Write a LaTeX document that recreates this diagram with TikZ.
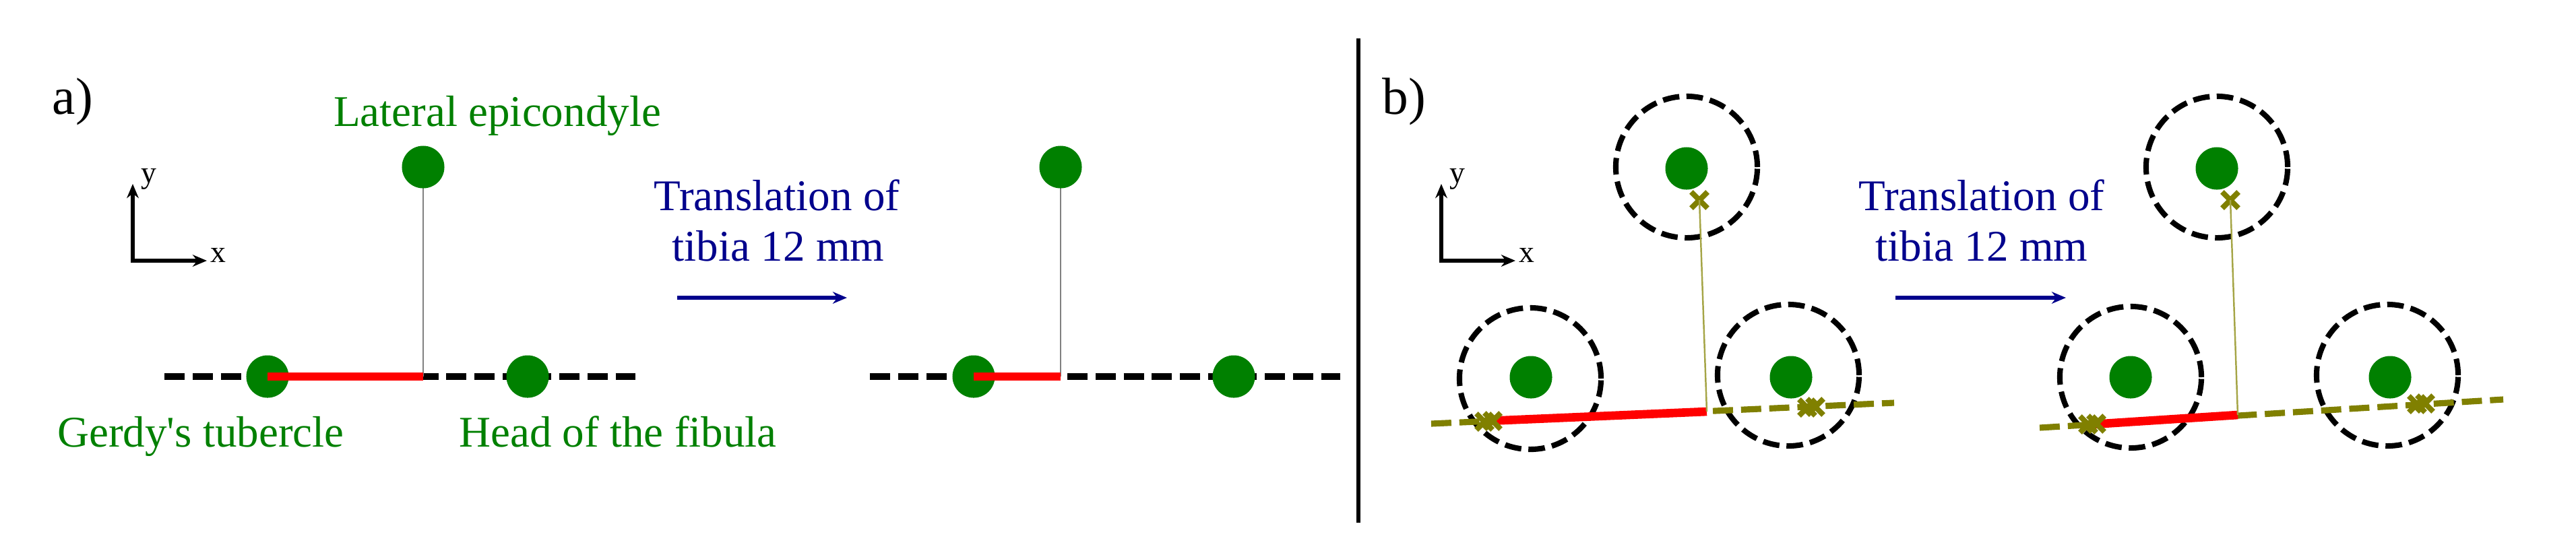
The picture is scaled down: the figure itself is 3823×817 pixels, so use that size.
\documentclass[tikz,border=0pt]{standalone}
\usepackage{fontspec}
\setmainfont{Liberation Serif}
\usetikzlibrary{arrows.meta,shapes.misc}
\definecolor{tgreen}{RGB}{0,128,0}
\definecolor{navyc}{RGB}{0,0,140}
\definecolor{olivec}{RGB}{128,128,0}
\definecolor{olivethin}{RGB}{165,165,70}
\begin{document}
\begin{tikzpicture}[x=0.01cm,y=-0.01cm,
  dot/.style={circle,fill=tgreen,inner sep=0pt,minimum size=0.63cm},
  ring/.style={circle,draw=black,line width=2.3pt,dash pattern=on 7pt off 3pt,inner sep=0pt,minimum size=2.1cm},
  lbl/.style={text=tgreen,font=\fontsize{18.5}{22}\selectfont,inner sep=0pt,anchor=base},
  trl/.style={text=navyc,font=\fontsize{18.5}{22}\selectfont,inner sep=0pt,anchor=base},
  panel/.style={font=\fontsize{22}{26}\selectfont,inner sep=0pt,anchor=base west},
  axl/.style={font=\fontsize{13}{15}\selectfont,inner sep=0pt},
  axis/.style={line width=1.9pt,line join=miter,{Stealth[length=6pt,width=5pt]}-{Stealth[length=6pt,width=5pt]}},
  transarrow/.style={draw=navyc,line width=1.9pt,-{Stealth[length=6pt,width=5pt]}},
  blackdash/.style={line width=2.6pt,dash pattern=on 8.5pt off 3.4pt},
  olivedash/.style={draw=olivec,line width=2.6pt,dash pattern=on 8.5pt off 3.4pt},
  redseg/.style={draw=red,line width=3.6pt},
  grayline/.style={draw=gray,line width=0.6pt},
  olivethinline/.style={draw=olivethin,line width=0.7pt},
  xmark/.style={cross out,draw=olivec,line width=2.3pt,inner sep=0pt,minimum size=0.16cm}]
\useasboundingbox (0,0) rectangle (3823,817);

% ---------- panel a ----------
\node[panel] (pa) at (77,169) {a)};
\coordinate (Oa) at (197,387);
\coordinate (Ya) at (197,273);
\coordinate (Xa) at (307,387);
\draw[axis] (Ya) -- (Oa) -- (Xa);
\node[axl] (ya) at (221,266) {y};
\node[axl] (xa) at (324,379) {x};

% first configuration
\coordinate (La1) at (244,559);
\coordinate (Ra1) at (943,559);
\coordinate (Ja1) at (628,559);
\draw[blackdash] (La1) -- (Ra1);
\draw[grayline] (628,248) -- (Ja1);
\node[dot] (Ta1) at (628,248) {};
\node[dot] (Ga1) at (397,559) {};
\node[dot] (Fa1) at (783,559) {};
\draw[redseg] (Ga1.center) -- (Ja1);

\node[lbl] (lat) at (738,187) {Lateral epicondyle};
\node[lbl] (gerdy) at (298,663) {Gerdy\textquotesingle s tubercle};
\node[lbl] (head) at (917,663) {Head of the fibula};

\node[trl] (tra1) at (1153,312) {Translation of};
\node[trl] (tra2) at (1155,387) {tibia 12 mm};
\coordinate (AaS) at (1005,442);
\coordinate (AaE) at (1257,442);
\draw[transarrow] (AaS) -- (AaE);

% second configuration
\coordinate (La2) at (1291,559);
\coordinate (Ra2) at (1989,559);
\coordinate (Ja2) at (1574,559);
\draw[blackdash] (La2) -- (Ra2);
\draw[grayline] (1574,248) -- (Ja2);
\node[dot] (Ta2) at (1574,248) {};
\node[dot] (Ga2) at (1445,559) {};
\node[dot] (Fa2) at (1831,559) {};
\draw[redseg] (Ga2.center) -- (Ja2);

% separator
\coordinate (S1) at (2016,57);
\coordinate (S2) at (2016,776);
\draw[line width=1.5pt] (S1) -- (S2);

% ---------- panel b ----------
\node[panel] (pb) at (2051,169) {b)};
\coordinate (Ob) at (2139,387);
\coordinate (Yb) at (2139,273);
\coordinate (Xb) at (2249,387);
\draw[axis] (Yb) -- (Ob) -- (Xb);
\node[axl] (yb) at (2163,266) {y};
\node[axl] (xb) at (2266,379) {x};

% first configuration
\node[ring] (Ct1) at (2503,248) {};
\node[ring] (Cg1) at (2271,562) {};
\node[ring] (Cf1) at (2654,557) {};
\node[dot] (Tb1) at (2503,250) {};
\node[dot] (Gb1) at (2272,560) {};
\node[dot] (Fb1) at (2658,560) {};
\coordinate (Lb1) at (2124,629);
\coordinate (Rb1) at (2811,598);
\coordinate (Jb1) at (2533,611);
\coordinate (Sb1) at (2207,625);
\draw[olivedash] (Lb1) -- (Rb1);
\draw[redseg] (Sb1) -- (Jb1);
\node[xmark] (mt1) at (2522,297) {};
\draw[olivethinline] (mt1.center) -- (Jb1);
\node[xmark] (ml1a) at (2203,626) {};
\node[xmark] (ml1b) at (2215,625) {};
\node[xmark] (mr1a) at (2682,605) {};
\node[xmark] (mr1b) at (2694,604) {};

\node[trl] (trb1) at (2941,312) {Translation of};
\node[trl] (trb2) at (2941,387) {tibia 12 mm};
\coordinate (AbS) at (2813,442);
\coordinate (AbE) at (3066,442);
\draw[transarrow] (AbS) -- (AbE);

% second configuration
\node[ring] (Ct2) at (3290,248) {};
\node[ring] (Cg2) at (3162,560) {};
\node[ring] (Cf2) at (3543,557) {};
\node[dot] (Tb2) at (3290,250) {};
\node[dot] (Gb2) at (3162,560) {};
\node[dot] (Fb2) at (3547,560) {};
\coordinate (Lb2) at (3027,635);
\coordinate (Rb2) at (3715,593);
\coordinate (Jb2) at (3321,616);
\coordinate (Sb2) at (3105,630);
\draw[olivedash] (Lb2) -- (Rb2);
\draw[redseg] (Sb2) -- (Jb2);
\node[xmark] (mt2) at (3310,297) {};
\draw[olivethinline] (mt2.center) -- (Jb2);
\node[xmark] (ml2a) at (3099,630) {};
\node[xmark] (ml2b) at (3111,629) {};
\node[xmark] (mr2a) at (3587,600) {};
\node[xmark] (mr2b) at (3599,599) {};
\end{tikzpicture}
\end{document}
